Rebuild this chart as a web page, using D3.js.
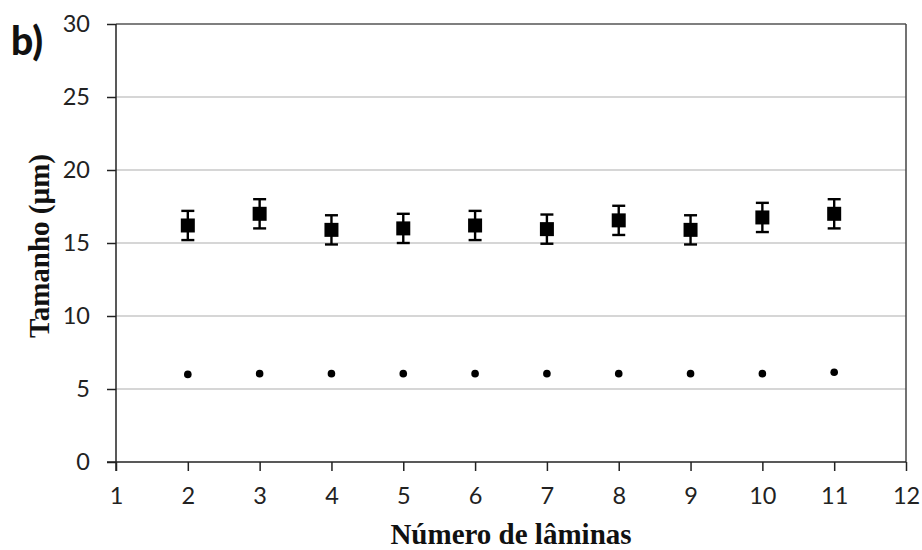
<!DOCTYPE html>
<html><head><meta charset="utf-8">
<script src="https://cdn.jsdelivr.net/npm/d3@7"></script>
<style>body{margin:0;background:#fff}</style>
</head><body>
<svg id="c" width="922" height="550"></svg>
<script>
const laminas = [2, 3, 4, 5, 6, 7, 8, 9, 10, 11];
const tamanhoGrande = [16.2, 17.0, 15.9, 16.0, 16.2, 15.95, 16.55, 15.9, 16.75, 17.0];
const erroGrande = [1.0, 1.0, 1.0, 1.0, 1.0, 1.0, 1.0, 1.0, 1.0, 1.0];
const tamanhoPequeno = [6.0, 6.05, 6.05, 6.05, 6.05, 6.05, 6.05, 6.05, 6.05, 6.15];
const xTicks = [1, 2, 3, 4, 5, 6, 7, 8, 9, 10, 11, 12];
const yTicks = [0, 5, 10, 15, 20, 25, 30];

const svg = d3.select("#c");
const L = 116, R = 906, T = 24, B = 462;
const x = d3.scaleLinear().domain([1, 12]).range([L, R]);
const y = d3.scaleLinear().domain([0, 30]).range([B, T]);

// gridlines
svg.append("g").selectAll("line").data(yTicks.filter(v => v > 0 && v < 30)).join("line")
  .attr("x1", L).attr("x2", R).attr("y1", d => y(d)).attr("y2", d => y(d))
  .attr("stroke", "#c8c8c8").attr("stroke-width", 1.5);

// top & right border
svg.append("line").attr("x1", L).attr("x2", R).attr("y1", y(30)).attr("y2", y(30))
  .attr("stroke", "#555").attr("stroke-width", 1.5);
svg.append("line").attr("x1", R).attr("x2", R).attr("y1", T).attr("y2", B)
  .attr("stroke", "#444").attr("stroke-width", 1.5);

// axes
const yAxis = svg.append("g").attr("transform", `translate(${L},0)`)
  .call(d3.axisLeft(y).tickValues(yTicks).tickSize(9).tickPadding(17).tickFormat(d3.format("d")));
const xAxis = svg.append("g").attr("transform", `translate(0,${B})`)
  .call(d3.axisBottom(x).tickValues(xTicks).tickSize(9).tickPadding(16).tickFormat(d3.format("d")));
[yAxis, xAxis].forEach(a => {
  a.select(".domain").attr("stroke", "#222").attr("stroke-width", 1.5);
  a.selectAll(".tick line").attr("stroke", "#222").attr("stroke-width", 1.5);
  a.selectAll("text").attr("font-family", "Lato, 'Open Sans', sans-serif")
    .attr("font-size", 23.5).attr("fill", "#222");
});
yAxis.select(".domain").attr("d", `M0,${B + 9}V${T}`);
xAxis.select(".domain").attr("d", `M${L - 9},0H${R}`);

// error bars
const eb = svg.append("g").attr("stroke", "#000").attr("stroke-width", 2.4);
laminas.forEach((l, i) => {
  const cx = x(l), hi = y(tamanhoGrande[i] + erroGrande[i]), lo = y(tamanhoGrande[i] - erroGrande[i]);
  eb.append("line").attr("x1", cx).attr("x2", cx).attr("y1", hi).attr("y2", lo);
  eb.append("line").attr("x1", cx - 6.5).attr("x2", cx + 6.5).attr("y1", hi).attr("y2", hi);
  eb.append("line").attr("x1", cx - 6.5).attr("x2", cx + 6.5).attr("y1", lo).attr("y2", lo);
});

// squares
svg.append("g").selectAll("rect").data(laminas).join("rect")
  .attr("x", d => x(d) - 7).attr("y", (d, i) => y(tamanhoGrande[i]) - 7)
  .attr("width", 14).attr("height", 14).attr("fill", "#000");

// circles
svg.append("g").selectAll("circle").data(laminas).join("circle")
  .attr("cx", d => x(d)).attr("cy", (d, i) => y(tamanhoPequeno[i])).attr("r", 3.8).attr("fill", "#000");

// titles
svg.append("text").attr("x", 511).attr("y", 544).attr("text-anchor", "middle")
  .attr("font-family", "'Liberation Serif', 'Times New Roman', serif").attr("font-weight", "bold")
  .attr("font-size", 29).attr("fill", "#111").text("Número de lâminas");
svg.append("text").attr("transform", "translate(49,246) rotate(-90)").attr("text-anchor", "middle")
  .attr("font-family", "'Liberation Serif', 'Times New Roman', serif").attr("font-weight", "bold")
  .attr("font-size", 29).attr("fill", "#111").text("Tamanho (µm)");
svg.append("text").attr("x", 11).attr("y", 55)
  .attr("font-family", "Lato, 'Open Sans', sans-serif").attr("font-weight", "900")
  .attr("font-size", 39).attr("fill", "#111").text("b)");
</script>
</body></html>
